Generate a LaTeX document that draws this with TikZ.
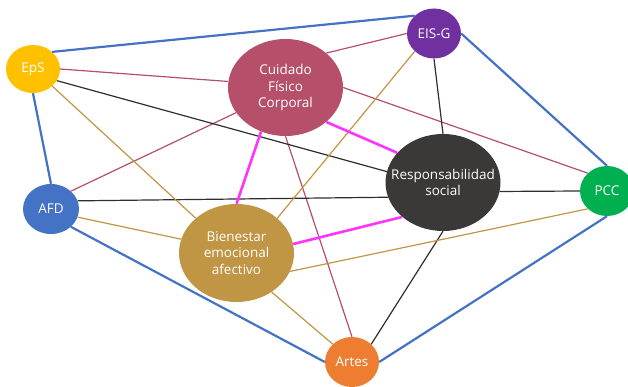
\documentclass[tikz,border=0pt]{standalone}
\usepackage{fontspec}
\setmainfont{Open Sans}
\usetikzlibrary{shapes.geometric}
\definecolor{bleu}{RGB}{68,114,196}
\definecolor{cramoisi}{RGB}{181,79,106}
\definecolor{ocre}{RGB}{192,149,68}
\definecolor{noir}{RGB}{59,56,56}
\definecolor{rose}{RGB}{255,51,255}
\definecolor{jaune}{RGB}{255,192,0}
\definecolor{violet}{RGB}{112,48,160}
\definecolor{vert}{RGB}{0,176,80}
\definecolor{orange}{RGB}{237,125,49}

\begin{document}
\begin{tikzpicture}[x=1pt,y=-1pt,
  petit/.style={ellipse, minimum width=54pt, minimum height=50pt, inner sep=0pt, text=white, font=\fontsize{13.5}{16.5}\selectfont},
  grand/.style={ellipse, minimum width=115pt, minimum height=97pt, inner sep=0pt},
  texte/.style={text=white, align=center, inner sep=0pt, font=\fontsize{13.5}{16.5}\selectfont},
  lienbleu/.style={bleu, line width=2.2pt},
  lienrose/.style={rose, line width=2.6pt},
  lien/.style={line width=1.2pt}]
\useasboundingbox (0,0) rectangle (628,387);
\clip (0,0) rectangle (628,387);

% les sommets
\node [petit, fill=jaune, minimum height=48pt] (EpS) at (33,69) {EpS};
\node [petit, fill=violet] (EIS) at (434,33.5) {EIS-G};
\node [petit, fill=bleu, minimum width=56pt] (AFD) at (51,209) {AFD};
\node [petit, fill=vert] (PCC) at (607,191) {PCC};
\node [petit, fill=orange] (Artes) at (352,362) {Artes};
\node [grand, fill=cramoisi, label={[texte]center:{Cuidado\\Físico\\Corporal}}] (CFC) at (285.5,87.5) {};
\node [grand, fill=noir, label={[texte]center:{Responsabilidad\\social}}] (RS) at (443,182.5) {};
\node [grand, fill=ocre, minimum height=98pt, label={[texte]center:{Bienestar\\emocional\\afectivo}}] (BEA) at (236.5,253) {};

% contour bleu
\draw [lienbleu] (EpS.north east)--(EIS.north west);
\draw [lienbleu] (EpS.south)--(AFD.north);
\draw [lienbleu] (AFD.south east)--(Artes.west);
\draw [lienbleu] (Artes.east)--(PCC.south);
\draw [lienbleu] (EIS.east)--(PCC.north);

\draw [lien, cramoisi] (EpS.east)--(CFC.174);
\draw [lien, cramoisi] (CFC.north east)--(EIS.west);
\draw [lien, cramoisi] (CFC.207)--(AFD.north east);
\draw [lien, cramoisi] (CFC.east)--(PCC.north west);
\draw [lien, cramoisi] (CFC.south)--(Artes.north);

\draw [lien, noir!80!black] (EpS.-26)--(RS.169);
\draw [lien, noir!80!black] (EIS.south)--(RS.north);
\draw [lien, noir!80!black] (AFD.17)--(RS.195);
\draw [lien, noir!80!black] (RS.-9)--(PCC.west);
\draw [lien, noir!80!black] (RS.south)--(Artes.north east);

\draw [lien, ocre] (EpS.south east)--(BEA.north west);
\draw [lien, ocre] (EIS.south west)--(BEA.north east);
\draw [lien, ocre] (AFD.-17)--(BEA.166);
\draw [lien, ocre] (BEA.-19)--(PCC.south west);
\draw [lien, ocre] (BEA.-48)--(Artes.north west);

% liens roses
\draw [lienrose] (CFC.241)--(BEA.north);
\draw [lienrose] (CFC.south east)--(RS.147);
\draw [lienrose] (BEA.9)--(RS.south west);

\end{tikzpicture}
\end{document}
